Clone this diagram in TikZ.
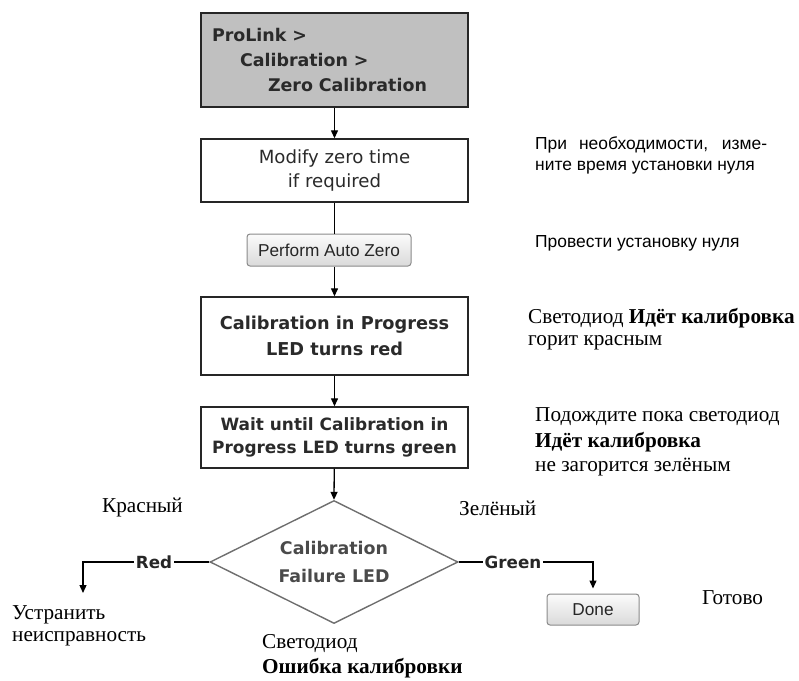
\documentclass[tikz,border=0pt]{standalone}
\usepackage{fontspec}
\setmainfont{Liberation Serif}
\newfontfamily\boxfont{DejaVu Sans}
\newfontfamily\rusans{Liberation Sans}
\usetikzlibrary{arrows.meta,shapes.geometric,calc}
\definecolor{boxgray}{HTML}{C0C0C0}
\definecolor{txtgray}{HTML}{2A2A2A}
\definecolor{diagray}{HTML}{6E6E6E}
\definecolor{diatext}{HTML}{4A4A4A}
\definecolor{btnborder}{HTML}{8A8A8A}
\definecolor{btntop}{HTML}{FBFBFB}
\definecolor{btnbot}{HTML}{DADADA}
\begin{document}
\begin{tikzpicture}[x=1bp,y=-1bp,
  flowbox/.style={draw=black!85, line width=1.4bp, rectangle, minimum width=267bp,
    inner sep=0pt, align=center, text=txtgray},
  boldtxt/.style={font=\boxfont\bfseries\fontsize{17.5}{25}\selectfont},
  regtxt/.style={font=\boxfont\fontsize{18.2}{25}\selectfont},
  button/.style={draw=btnborder, line width=1bp, rounded corners=3bp,
    top color=btntop, bottom color=btnbot, inner sep=0pt, text=black!85,
    font=\rusans\fontsize{17.3}{20}\selectfont},
  arr/.style={line width=1.3bp, -{Triangle[length=8bp,width=7bp]}},
  ln/.style={line width=1.3bp},
  branchlbl/.style={fill=white, inner sep=1.5bp, text=black!85,
    font=\boxfont\bfseries\fontsize{16.8}{20}\selectfont},
  sansnote/.style={anchor=west, inner sep=0pt, font=\rusans\fontsize{17.5}{23}\selectfont},
  serifnote/.style={anchor=west, inner sep=0pt, font=\fontsize{21.3}{25}\selectfont}
]
\path[use as bounding box] (0,0) rectangle (799,681);

% main column
\node[flowbox, boldtxt, fill=boxgray, minimum height=94bp, text width=245bp, align=left]
  (menu) at (334.5,60) {ProLink >\\\hspace*{28bp}Calibration >\\\hspace*{56bp}Zero Calibration};
\node[flowbox, regtxt, minimum height=63bp] (modify) at (334.5,170.5) {Modify zero time\\if required};
\node[button, minimum width=164bp, minimum height=32bp] (auto) at (329,250) {Perform Auto Zero};
\node[flowbox, boldtxt, font=\boxfont\bfseries\fontsize{17.8}{26}\selectfont, minimum height=78bp] (prog) at (334.5,336) {Calibration in Progress\\LED turns red};
\node[flowbox, boldtxt, font=\boxfont\bfseries\fontsize{17}{23}\selectfont, minimum height=61bp] (wait) at (334.5,437.5) {Wait until Calibration in\\Progress LED turns green};
\node[diamond, shape aspect=2, draw=diagray, line width=1.4bp, inner sep=0pt,
  minimum width=248bp, minimum height=123bp, align=center, text=diatext,
  font=\boxfont\bfseries\fontsize{17.5}{28}\selectfont] (fail) at (334,562) {Calibration\\Failure LED};
\node[button, minimum width=92bp, minimum height=31bp] (done) at (593,609.5) {Done};

\coordinate (redcorner) at (83,562);
\coordinate (redend) at (83,593);
\coordinate (greencorner) at (593,562);

\draw[arr] (menu) -- (modify);
\draw[ln] (modify.south) -- (modify.south |- auto.north);
\draw[arr] (auto.south -| prog.north) -- (prog);
\draw[arr] (prog) -- (wait);
\draw[arr] (wait) -- (fail.north);
\draw[arr] (fail.west) -- (redcorner) -- (redend);
\draw[arr, shorten >=5bp] (fail.east) -- (greencorner) -- (done.north);
\node[branchlbl] (redlbl) at (154,562) {Red};
\node[branchlbl] (greenlbl) at (513,562) {Green};

% annotations
\node[sansnote] (n1) at (535,145) {\makebox[232bp][s]{При необходимости, изме-}};
\node[sansnote] (n2) at (535,168) {ните время установки нуля};
\node[sansnote] (n3) at (535,243) {Провести установку нуля};
\node[serifnote] (n4) at (528,318) {Светодиод \textbf{Идёт калибровка}};
\node[serifnote] (n5) at (528,343) {горит красным};
\node[serifnote] (n6) at (535,417) {Подождите пока светодиод};
\node[serifnote] (n7) at (535,442) {\textbf{Идёт калибровка}};
\node[serifnote] (n8) at (535,467) {не загорится зелёным};
\node[serifnote] (n9) at (102,507) {Красный};
\node[serifnote] (n10) at (459,508) {Зелёный};
\node[serifnote] (n11) at (12,615) {Устранить};
\node[serifnote] (n12) at (12,639) {неисправность};
\node[serifnote] (n13) at (262,644) {Светодиод};
\node[serifnote] (n14) at (262,668) {\textbf{Ошибка калибровки}};
\node[serifnote] (n15) at (702,598) {Готово};
\end{tikzpicture}
\end{document}
